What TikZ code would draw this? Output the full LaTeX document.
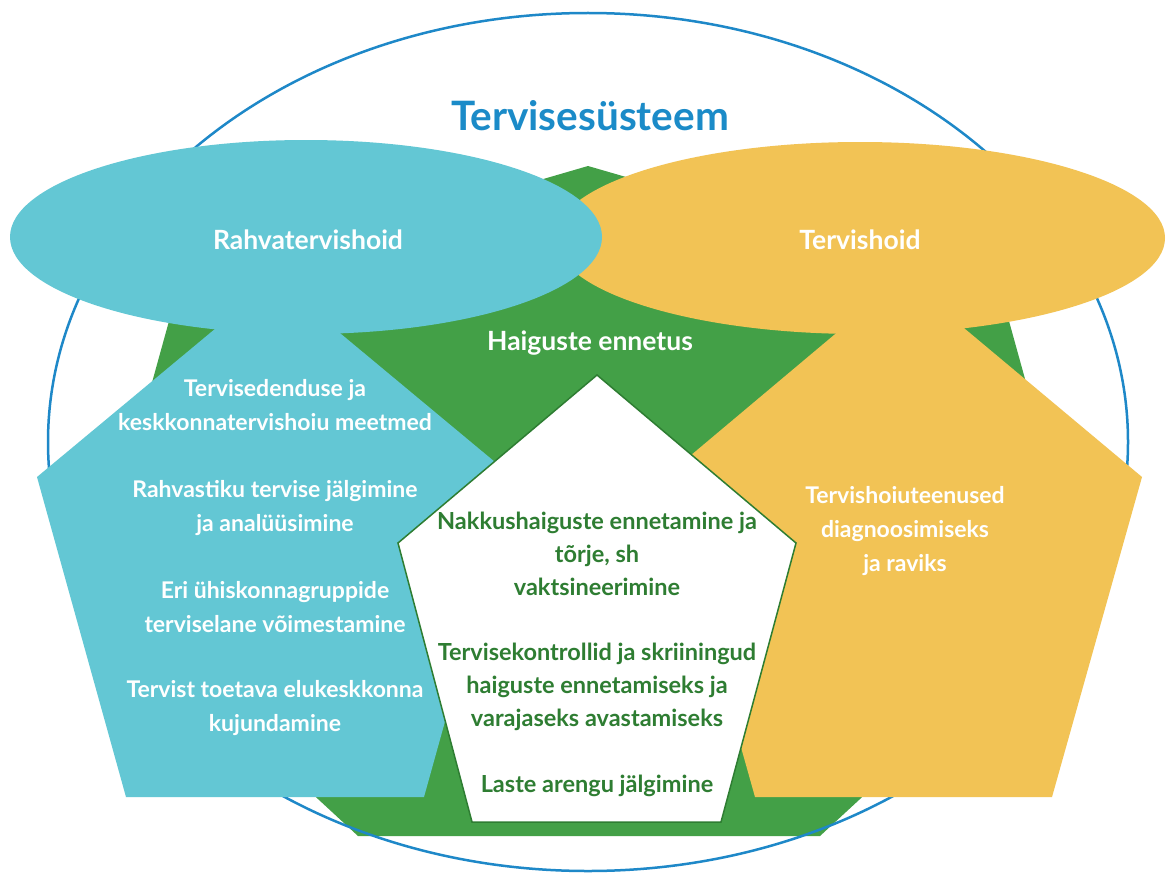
\documentclass[tikz,border=0pt]{standalone}
\usepackage{fontspec}
\setmainfont{Lato}
\definecolor{cblue}{RGB}{99,199,212}
\definecolor{corange}{RGB}{242,195,85}
\definecolor{cgreen}{RGB}{67,160,71}
\definecolor{cdgreen}{RGB}{46,125,50}
\definecolor{ctitle}{RGB}{27,139,200}
\definecolor{cline}{RGB}{30,136,200}
\begin{document}
\begin{tikzpicture}[x=1pt,y=-1pt,
  head/.style={text=white,font=\bfseries\fontsize{26.5}{30}\selectfont},
  wlbl/.style={text=white,font=\bfseries\fontsize{23}{34}\selectfont,align=center},
  glbl/.style={text=cdgreen,font=\bfseries\fontsize{23.5}{33}\selectfont,align=center},
  title/.style={text=ctitle,font=\bfseries\fontsize{40.5}{44}\selectfont}]
\useasboundingbox (0,0) rectangle (1166,872);
\fill[white] (0,0) rectangle (1166,872);
% green heptagon
\fill[cgreen] (588,166) -- (179,285) -- (94,592) -- (358,836) -- (820,836) -- (1084,592) -- (999,285) -- cycle;
% outer ellipse
\draw[cline,line width=2.5pt] (588,442) ellipse [x radius=540pt, y radius=429pt];
% ellipses
\fill[corange] (860,238) ellipse [x radius=305pt, y radius=96pt];
\fill[cblue] (306,237) ellipse [x radius=296pt, y radius=97pt];
% pentagons
\fill[cblue] (275,279) -- (37,477) -- (126,797) -- (424,797) -- (513,477) -- cycle;
\fill[corange] (903,277) -- (665,477) -- (755,797) -- (1052,797) -- (1142,477) -- cycle;
\filldraw[fill=white,draw=cdgreen,line width=1.5pt] (597,375) -- (398,543) -- (472,822) -- (721,822) -- (796,543) -- cycle;
% texts
\node[title] (t) at (590,116) {Tervisesüsteem};
\node[head] (rh) at (308,240) {Rahvatervishoid};
\node[head] (th) at (860,240) {Tervishoid};
\node[head] (he) at (590,343) {Haiguste ennetus};
\node[wlbl] (b1) at (275,405.5) {Tervisedenduse ja\\keskkonnatervishoiu meetmed};
\node[wlbl] (b2) at (275,508) {Rahvastiku tervise jälgimine\\ja analüüsimine};
\node[wlbl] (b3) at (275,607.5) {Eri ühiskonnagruppide\\terviselane võimestamine};
\node[wlbl] (b4) at (275,708.5) {Tervist toetava elukeskkonna\\kujundamine};
\node[wlbl] (o1) at (905,531) {Tervishoiuteenused\\diagnoosimiseks\\ja raviks};
\node[glbl] (g1) at (597,554) {Nakkushaiguste ennetamine ja\\tõrje, sh\\vaktsineerimine};
\node[glbl] (g2) at (597,687) {Tervisekontrollid ja skriiningud\\haiguste ennetamiseks ja\\varajaseks avastamiseks};
\node[glbl] (g3) at (597,786) {Laste arengu jälgimine};
\end{tikzpicture}
\end{document}
